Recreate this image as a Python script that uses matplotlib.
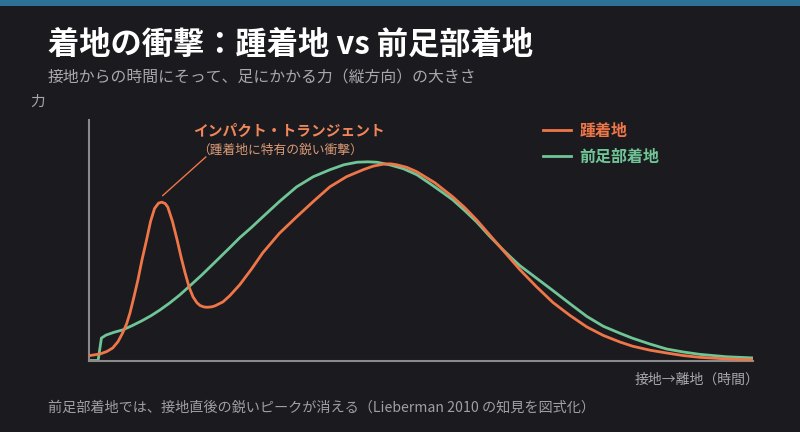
import matplotlib.pyplot as plt

plt.rcParams['font.family'] = ['Noto Sans CJK JP', 'DejaVu Sans']

BG = '#1b1a1f'
ORANGE = '#ef7648'
GREEN = '#70c597'

# time from touchdown to toe-off (%), vertical force (relative)
heel_t = [0, 1.7, 2.7, 3.6, 4.4, 5.1, 5.7, 6.2, 6.8, 7.4, 8.0, 8.7, 9.3, 9.9,
          10.5, 11.0, 11.5, 11.9, 12.6, 13.3, 13.9, 14.5, 15.1, 15.7, 16.3,
          16.8, 17.4, 17.9, 18.5, 19.0, 20.2, 21.2, 22.7, 24.5, 26.2, 28.7,
          31.3, 33.8, 36.3, 38.8, 41.3, 42.8, 44.3, 45.4, 46.4, 47.9, 49.4,
          52.1, 54.8, 56.6, 58.4, 60.3, 62.3, 63.6, 64.9, 67.4, 69.9, 72.5,
          75.0, 77.5, 80.0, 81.9, 84.5, 87.0, 89.5, 92.0, 96.0, 100]
heel_f = [0.024, 0.033, 0.045, 0.063, 0.095, 0.139, 0.185, 0.239, 0.320, 0.406,
          0.505, 0.607, 0.700, 0.765, 0.792, 0.797, 0.790, 0.772, 0.700, 0.607,
          0.520, 0.441, 0.370, 0.320, 0.290, 0.276, 0.269, 0.268, 0.270, 0.275,
          0.295, 0.325, 0.380, 0.460, 0.542, 0.640, 0.723, 0.800, 0.874, 0.925,
          0.960, 0.978, 0.988, 0.990, 0.985, 0.972, 0.950, 0.895, 0.824, 0.770,
          0.708, 0.635, 0.558, 0.508, 0.458, 0.372, 0.292, 0.226, 0.169, 0.126,
          0.093, 0.072, 0.052, 0.038, 0.025, 0.016, 0.008, 0.003]

fore_t = [0, 1.4, 1.9, 2.6, 3.8, 5.1, 6.5, 8.0, 9.4, 10.7, 12.2, 13.7, 15.2,
          17.0, 19.0, 21.2, 22.7, 24.5, 26.2, 28.7, 31.3, 33.8, 36.3, 38.4,
          40.4, 42.0, 43.4, 45.3, 47.4, 49.4, 51.4, 53.1, 54.8, 56.6, 58.4,
          60.3, 62.3, 63.6, 64.9, 67.4, 69.9, 72.5, 75.0, 77.5, 80.0, 81.9,
          84.5, 87.0, 89.5, 92.0, 96.0, 100]
fore_f = [0.0, 0.0, 0.113, 0.128, 0.142, 0.154, 0.175, 0.200, 0.226, 0.254,
          0.290, 0.330, 0.375, 0.430, 0.495, 0.567, 0.617, 0.670, 0.723, 0.800,
          0.874, 0.925, 0.960, 0.985, 0.998, 1.0, 0.998, 0.985, 0.965, 0.935,
          0.890, 0.850, 0.809, 0.755, 0.698, 0.628, 0.560, 0.518, 0.478, 0.415,
          0.352, 0.285, 0.222, 0.172, 0.137, 0.112, 0.083, 0.058, 0.043, 0.031,
          0.019, 0.013]

fig = plt.figure(figsize=(8, 4.32), dpi=100, facecolor=BG)
ax = fig.add_axes([0.111, 0.1655, 0.83, 0.5565])
ax.set_facecolor(BG)

# top accent stripe
fig.add_artist(plt.Rectangle((0, 0.986), 1, 0.014, transform=fig.transFigure,
                             color='#2e7197', lw=0))

ax.plot(heel_t, heel_f, color=ORANGE, lw=2.0, label='踵着地', zorder=3,
        solid_joinstyle='round')
ax.plot(fore_t, fore_f, color=GREEN, lw=2.0, label='前足部着地', zorder=2,
        solid_joinstyle='round')

ax.set_xlim(0, 100)
ax.set_ylim(0, 1.21)
ax.set_xticks([])
ax.set_yticks([])
for s in ['top', 'right']:
    ax.spines[s].set_visible(False)
for s in ['left', 'bottom']:
    ax.spines[s].set_color('#8a8a8a')
    ax.spines[s].set_linewidth(1.5)

leg = ax.legend(loc='upper left', bbox_to_anchor=(0.662, 1.048), frameon=False,
                handlelength=1.8, handletextpad=0.5, labelspacing=0.6,
                fontsize=11.5, labelcolor='linecolor')
for t in leg.get_texts():
    t.set_fontweight('bold')

# impact transient callout
ax.annotate('', xy=(10.8, 0.82), xytext=(208, 432 - 155), textcoords='figure pixels',
            arrowprops=dict(arrowstyle='-', color=ORANGE, lw=1))
fig.text(193 / 800, 1 - 131 / 432, 'インパクト・トランジェント', color='#f0875a',
         fontsize=10.6, fontweight='bold', va='center', ha='left')
fig.text(197 / 800, 1 - 150 / 432, '（踵着地に特有の鋭い衝撃）', color='#d99a76',
         fontsize=9.2, va='center', ha='left')

fig.text(48 / 800, 1 - 45 / 432, '着地の衝撃：踵着地 vs 前足部着地', color='white',
         fontsize=22.5, fontweight='bold', va='center', ha='left')
fig.text(48 / 800, 1 - 78 / 432, '接地からの時間にそって、足にかかる力（縦方向）の大きさ',
         color='#a8a8ab', fontsize=11.4, va='center', ha='left')
fig.text(30 / 800, 1 - 102 / 432, '力', color='#a8a8ab', fontsize=10.5,
         va='center', ha='left')
fig.text(759 / 800, 1 - 380 / 432, '接地→離地（時間）', color='#a8a8ab',
         fontsize=10, va='center', ha='right')
fig.text(48 / 800, 1 - 408 / 432,
         '前足部着地では、接地直後の鋭いピークが消える（Lieberman 2010 の知見を図式化）',
         color='#a0a0a3', fontsize=10.2, va='center', ha='left')

fig.savefig('out.png', dpi=100, facecolor=BG)
